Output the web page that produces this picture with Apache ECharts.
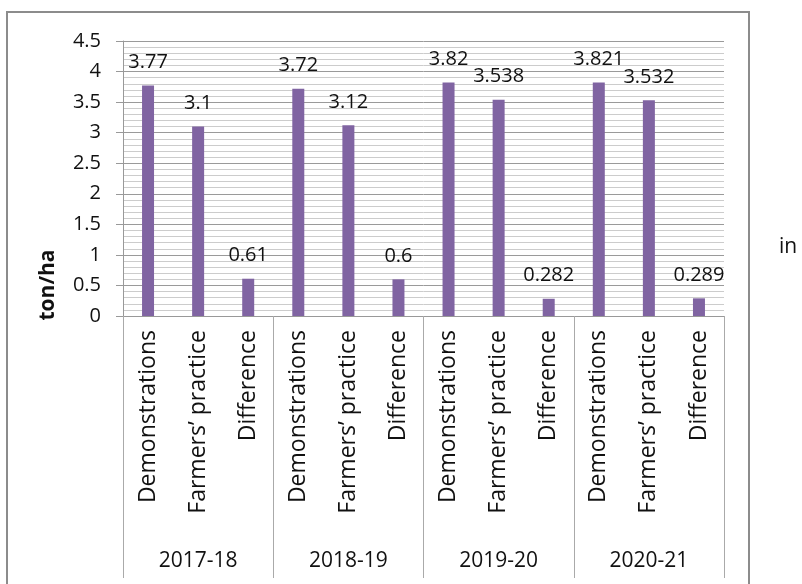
<!DOCTYPE html>
<html>
<head>
<meta charset="utf-8">
<script src="https://cdn.jsdelivr.net/npm/echarts@6/dist/echarts.min.js"></script>
<style>
html,body{margin:0;padding:0;background:#fff;}
#c{width:802px;height:584px;}
</style>
</head>
<body>
<div id="c"></div>
<script>
var categories = ["Demonstrations","Farmers\u2019 practice","Difference",
                  "Demonstrations","Farmers\u2019 practice","Difference",
                  "Demonstrations","Farmers\u2019 practice","Difference",
                  "Demonstrations","Farmers\u2019 practice","Difference"];
var years = ["2017-18","2018-19","2019-20","2020-21"];
var values = [3.77, 3.1, 0.61, 3.72, 3.12, 0.6, 3.82, 3.538, 0.282, 3.821, 3.532, 0.289];
var yTicks = [0, 0.5, 1, 1.5, 2, 2.5, 3, 3.5, 4, 4.5];

var FONT = "Open Sans";
var chart = echarts.init(document.getElementById('c'), null, {renderer:'canvas'});
chart.setOption({
  animation: false,
  backgroundColor: '#fff',
  textStyle: {fontFamily: FONT},
  grid: {left: 123, right: 78, top: 41, bottom: 268},
  graphic: [
    {type:'rect', shape:{x:7, y:12, width:742, height:600},
     style:{fill:'none', stroke:'#8c8c8c', lineWidth:2}, silent:true, z:-10},
    {type:'text', x:48, y:285, rotation:Math.PI/2,
     style:{text:'ton/ha', font:'bold 21px "Open Sans"', fill:'#111', align:'center', verticalAlign:'middle'}},
    {type:'text', x:788, y:247,
     style:{text:'in', font:'21px "Open Sans"', fill:'#111', align:'center', verticalAlign:'middle'}}
  ],
  xAxis: [
    {type:'category', data: categories, position:'bottom',
     axisLine:{show:true, lineStyle:{color:'#999', width:1}},
     axisTick:{show:false},
     axisLabel:{rotate:90, margin:14, fontSize:23, color:'#111', fontFamily:FONT, interval:0},
     splitLine:{show:false}},
    {type:'category', data: years, position:'bottom',
     axisLine:{show:false},
     axisTick:{show:true, length:262, interval:0, alignWithLabel:false, lineStyle:{color:'#aaa', width:1}},
     axisLabel:{margin:235, fontSize:21, color:'#111', fontFamily:FONT, interval:0},
     splitLine:{show:false}}
  ],
  yAxis: {
    type:'value', min: yTicks[0], max: yTicks[yTicks.length-1], interval: 0.5,
    axisLine:{show:true, lineStyle:{color:'#999', width:1}},
    axisTick:{show:true, length:7, lineStyle:{color:'#999'}},
    axisLabel:{fontSize:20, color:'#111', fontFamily:FONT, margin:22,
               formatter:function(v){return String(v);}},
    splitLine:{show:true, lineStyle:{color:'#9a9a9a', width:1}},
    minorTick:{show:false, splitNumber:5},
    minorSplitLine:{show:true, lineStyle:{color:'#cccccc', width:1}}
  },
  series: [{
    type:'bar', data: values, barWidth: 12, xAxisIndex:0,
    itemStyle:{color:'#8064A2'},
    label:{show:true, position:'top', distance:13, fontSize:20, color:'#111', fontFamily:FONT}
  }]
});
</script>
</body>
</html>
